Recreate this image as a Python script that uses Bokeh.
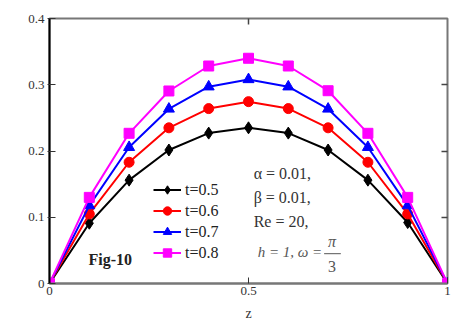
from bokeh.plotting import figure
from bokeh.models import (Legend, LegendItem, Label, LinearAxis, FixedTicker,
                          Range1d)
from bokeh.embed import file_html
from bokeh.resources import INLINE

z = [0.0, 0.1, 0.2, 0.3, 0.4, 0.5, 0.6, 0.7, 0.8, 0.9, 1.0]
u_05 = [0.0, 0.091, 0.156, 0.2015, 0.227, 0.235, 0.227, 0.2015, 0.156, 0.092, 0.0]
u_06 = [0.0, 0.105, 0.183, 0.235, 0.264, 0.2745, 0.264, 0.235, 0.183, 0.105, 0.0]
u_07 = [0.0, 0.1176, 0.2056, 0.2635, 0.297, 0.308, 0.297, 0.2635, 0.2056, 0.1176, 0.0]
u_08 = [0.0, 0.130, 0.2267, 0.2906, 0.3283, 0.340, 0.3283, 0.291, 0.2267, 0.130, 0.0]
labels = ["t=0.5", "t=0.6", "t=0.7", "t=0.8"]
x_ticks = [0, 0.5, 1]
y_ticks = [0, 0.1, 0.2, 0.3, 0.4]

FONT = "Liberation Serif"

p = figure(frame_width=398, frame_height=265, output_backend="svg",
           toolbar_location=None, x_range=Range1d(0, 1), y_range=Range1d(0, 0.4),
           min_border_left=49, min_border_right=6, min_border_top=18,
           min_border_bottom=45)
p.background_fill_color = "white"
p.border_fill_color = "white"
p.outline_line_color = "#777777"
p.outline_line_width = 2
p.xgrid.visible = False
p.ygrid.visible = False

# axes
xa = p.xaxis[0]
xa.ticker = FixedTicker(ticks=x_ticks)
xa.major_label_overrides = {0: "0", 0.5: "0.5", 1: "1"}
xa.axis_line_color = "#777777"
xa.axis_line_width = 2
xa.major_tick_in = 6
xa.major_tick_out = 0
xa.major_tick_line_color = "#333333"
xa.minor_tick_line_color = None
xa.major_label_standoff = 3
xa.major_label_text_font = FONT
xa.major_label_text_font_size = "13px"
xa.major_label_text_color = "#333333"
xa.axis_label = "z"
xa.axis_label_text_font = FONT
xa.axis_label_text_font_style = "normal"
xa.axis_label_text_font_size = "14px"
xa.axis_label_text_color = "#333333"
xa.axis_label_standoff = 8

ya = p.yaxis[0]
ya.ticker = FixedTicker(ticks=y_ticks)
ya.major_label_overrides = {0: "0", 0.1: "0.1", 0.2: "0.2", 0.3: "0.3", 0.4: "0.4"}
ya.axis_line_color = "black"
ya.axis_line_width = 2
ya.major_tick_in = 6
ya.major_tick_out = 2
ya.major_tick_line_color = "#333333"
ya.minor_tick_line_color = None
ya.major_label_standoff = 3
ya.major_label_text_font = FONT
ya.major_label_text_font_size = "13px"
ya.major_label_text_color = "#333333"

ra = LinearAxis(ticker=FixedTicker(ticks=[0.1, 0.2, 0.3]), axis_line_color=None,
                major_tick_in=6, major_tick_out=0, minor_tick_line_color=None,
                major_label_overrides={0.1: "", 0.2: "", 0.3: ""},
                major_tick_line_color="#444444", major_tick_line_width=1.5)
p.add_layout(ra, "right")
ta = LinearAxis(ticker=FixedTicker(ticks=[0.5]), axis_line_color=None,
                major_tick_in=6, major_tick_out=0, minor_tick_line_color=None,
                major_label_overrides={0.5: ""},
                major_tick_line_color="#444444", major_tick_line_width=1.5)
p.add_layout(ta, "above")

series = [
    (u_05, "black", "diamond", 12),
    (u_06, "#ff0000", "circle", 10),
    (u_07, "#0000ff", "triangle", 11),
    (u_08, "#ff00ff", "square", 10),
]
items = []
for (vals, col, mk, sz), lab in zip(series, labels):
    r1 = p.line(z, vals, line_color=col, line_width=2)
    r2 = p.scatter(z, vals, marker=mk, size=sz, fill_color=col, line_color=col)
    items.append(LegendItem(label=lab, renderers=[r1, r2]))

legend = Legend(items=items, location=(104, 20), border_line_color=None,
                background_fill_alpha=0, padding=0, margin=0, spacing=0,
                glyph_width=28, glyph_height=21, label_height=21,
                label_standoff=4, label_text_font=FONT,
                label_text_font_size="16px", label_text_color="#222222")
p.add_layout(legend, "center")

# labels
p.add_layout(Label(x=-0.105, y=0.241, text="U(z)", text_font=FONT,
                   text_font_style="bold", text_font_size="16px",
                   text_baseline="middle", text_color="#222222"))
p.add_layout(Label(x=0.098, y=0.036, text="Fig-10", text_font=FONT,
                   text_font_style="bold", text_font_size="16px",
                   text_baseline="middle", text_color="#222222"))

ann = [("α = 0.01,", 0.166), ("β = 0.01,", 0.130), ("Re = 20,", 0.094)]
for t, yv in ann:
    p.add_layout(Label(x=0.513, y=yv, text=t, text_font=FONT,
                       text_font_style="normal", text_font_size="16px",
                       text_baseline="middle", text_color="#333333"))
p.add_layout(Label(x=0.523, y=0.048, text="h = 1, ω =", text_font=FONT,
                   text_font_style="italic", text_font_size="15px",
                   text_baseline="middle", text_color="#555555"))
p.add_layout(Label(x=0.71, y=0.063, text="π", text_font=FONT,
                   text_font_style="italic", text_font_size="16px",
                   text_baseline="middle", text_align="center", text_color="#555555"))
p.add_layout(Label(x=0.71, y=0.026, text="3", text_font=FONT,
                   text_font_size="16px",
                   text_baseline="middle", text_align="center", text_color="#555555"))
p.segment(x0=[0.69], y0=[0.045], x1=[0.732], y1=[0.045], line_color="#555555",
          line_width=1)

open("out.html", "w").write(file_html(p, INLINE))
